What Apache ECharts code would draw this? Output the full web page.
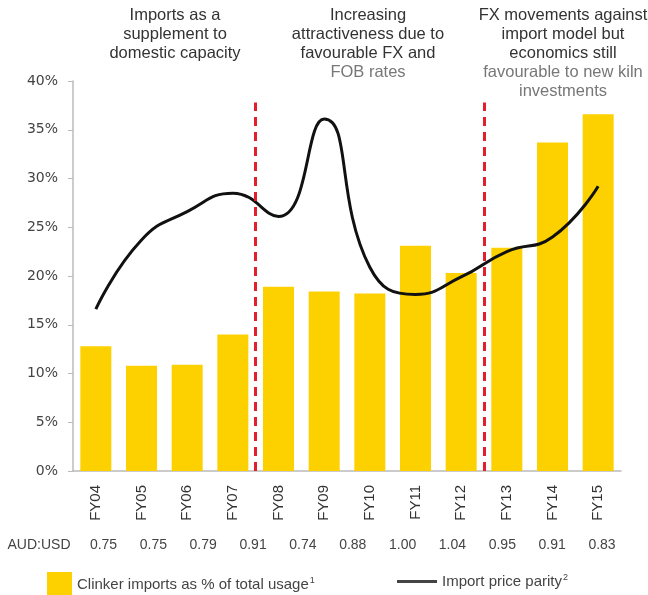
<!DOCTYPE html>
<html>
<head>
<meta charset="utf-8">
<script src="https://cdn.jsdelivr.net/npm/echarts@6/dist/echarts.min.js"></script>
<style>
  html, body { margin: 0; padding: 0; background: #fff; }
  #chart { width: 648px; height: 595px; }
</style>
</head>
<body>
<div id="chart"></div>
<script>
// 数据
const years = ['FY04', 'FY05', 'FY06', 'FY07', 'FY08', 'FY09', 'FY10', 'FY11', 'FY12', 'FY13', 'FY14', 'FY15']
const clinkerShare = [12.8, 10.8, 10.9, 14.0, 18.9, 18.4, 18.2, 23.1, 20.3, 22.9, 33.7, 36.6]
const priceParity = [16.6, 23.7, 26.6, 28.5, 26.1, 36.1, 20.9, 18.1, 19.9, 22.5, 24.0, 29.2]
// 汇率行（原图只有 11 个值，均匀分布在 FY04 到 FY15 之间）
const audUsd = ['0.75', '0.75', '0.79', '0.91', '0.74', '0.88', '1.00', '1.04', '0.95', '0.91', '0.83']
const dividers = [3.5, 8.5] // 阶段分隔线位置（类目之间）
const dividerTop = 37.8
const yTicks = [0, 40, 5] // min, max, interval

const barName = 'Clinker imports as % of total usage'
const lineName = 'Import price parity'

const FONT = '"Liberation Sans", Arial, sans-serif'
const chart = echarts.init(document.getElementById('chart'))

const option = {
  animation: false,
  grid: [
    { left: 73, right: 27, top: 81, bottom: 124, outerBoundsMode: 'none' },
    { left: 103.5, right: 46, top: 81, bottom: 124, outerBoundsMode: 'none' }
  ],
  graphic: [
    {
      type: 'text', x: 175, y: 6,
      style: {
        text: 'Imports as a\nsupplement to\ndomestic capacity',
        font: '16.5px ' + FONT, fill: '#333',
        textAlign: 'center', lineHeight: 19
      }
    },
    {
      type: 'text', x: 368, y: 6,
      style: {
        text: '{d|Increasing}\n{d|attractiveness due to}\n{d|favourable FX and}\n{g|FOB rates}',
        font: '16.5px ' + FONT,
        textAlign: 'center', lineHeight: 19,
        rich: { d: { fill: '#333', lineHeight: 19 }, g: { fill: '#777', lineHeight: 19 } }
      }
    },
    {
      type: 'text', x: 563, y: 6,
      style: {
        text: '{d|FX movements against}\n{d|import model but}\n{d|economics still}\n{g|favourable to new kiln}\n{g|investments}',
        font: '16.5px ' + FONT,
        textAlign: 'center', lineHeight: 19,
        rich: { d: { fill: '#333', lineHeight: 19 }, g: { fill: '#777', lineHeight: 19 } }
      }
    }
  ],
  legend: [
    {
      data: [barName], left: 42, top: 567, itemWidth: 25, itemHeight: 25, itemGap: 0,
      icon: 'rect',
      formatter: name => name + '{s|1}',
      textStyle: {
        fontFamily: FONT, fontSize: 15, color: '#444',
        rich: { s: { fontSize: 9, verticalAlign: 'top', padding: [0, 0, 8, 1], color: '#444' } }
      }
    },
    {
      data: [lineName], left: 392, top: 568, itemWidth: 40, itemHeight: 3,
      icon: 'rect', itemStyle: { color: '#444' },
      formatter: name => name + '{s|2}',
      textStyle: {
        fontFamily: FONT, fontSize: 15, color: '#444',
        rich: { s: { fontSize: 9, verticalAlign: 'top', padding: [0, 0, 8, 1], color: '#444' } }
      }
    }
  ],
  xAxis: [
    {
      type: 'category',
      data: years,
      axisLine: { onZero: false, lineStyle: { color: '#bbb', width: 1.5 } },
      axisTick: { show: false },
      axisLabel: { rotate: 90, margin: 14, color: '#333', fontSize: 15, fontFamily: FONT }
    },
    {
      type: 'category',
      gridIndex: 1,
      data: audUsd,
      boundaryGap: false,
      position: 'bottom',
      offset: 74,
      name: 'AUD:USD',
      nameLocation: 'start',
      nameGap: 33,
      nameTextStyle: { color: '#444', fontSize: 14, align: 'right', verticalAlign: 'middle', fontFamily: FONT },
      axisLine: { show: false, onZero: false },
      axisTick: { show: false },
      axisLabel: { margin: 0, verticalAlign: 'middle', color: '#444', fontSize: 14, fontFamily: FONT, interval: 0 }
    },
    {
      type: 'value', min: -0.5, max: 11.5, show: false
    }
  ],
  yAxis: [
    {
      type: 'value',
      min: yTicks[0], max: yTicks[1], interval: yTicks[2],
      splitLine: { show: false },
      axisLine: { show: true, onZero: false, lineStyle: { color: '#bbb', width: 1.5 } },
      axisTick: { show: true, length: 5, lineStyle: { color: '#bbb' } },
      axisLabel: {
        formatter: '{value}%', color: '#444', fontSize: 14, margin: 15,
        fontFamily: '"DejaVu Sans", Verdana, sans-serif'
      }
    },
    { type: 'value', gridIndex: 1, show: false, min: 0, max: 1 }
  ],
  series: [
    {
      name: barName,
      type: 'bar',
      data: clinkerShare,
      barWidth: 31,
      itemStyle: { color: '#FDD100' }
    },
    {
      name: lineName,
      type: 'line',
      data: priceParity,
      smooth: 0.5,
      symbol: 'none',
      lineStyle: { color: '#111', width: 3 },
      itemStyle: { color: '#444' }
    },
    {
      // 红色虚线分隔
      type: 'line',
      xAxisIndex: 2,
      data: [],
      markLine: {
        silent: true,
        symbol: ['none', 'none'],
        label: { show: false },
        lineStyle: { color: '#E2202C', width: 3, type: [9, 6] },
        data: dividers.map(d => [{ coord: [d, 0] }, { coord: [d, dividerTop] }])
      }
    }
  ]
}

chart.setOption(option)
</script>
</body>
</html>
